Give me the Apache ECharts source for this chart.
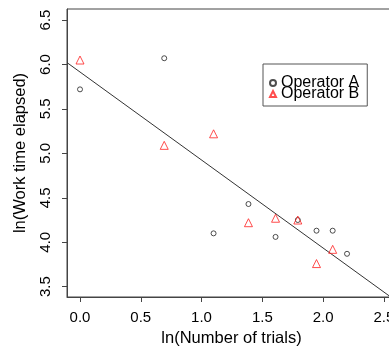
<!DOCTYPE html>
<html>
<head>
<meta charset="utf-8">
<script src="https://cdn.jsdelivr.net/npm/echarts@6/dist/echarts.min.js"></script>
<style>
  html, body { margin: 0; padding: 0; background: #fff; }
  #chart { width: 389px; height: 354px; }
</style>
</head>
<body>
<div id="chart"></div>
<script>
// ln(number of trials) / ln(work time) per operator
const xA = [0, 0.693, 1.099, 1.386, 1.609, 1.792, 1.946, 2.079, 2.197];
const yA = [5.72, 6.07, 4.10, 4.43, 4.06, 4.25, 4.13, 4.13, 3.87];
const xB = [0, 0.693, 1.099, 1.386, 1.609, 1.792, 1.946, 2.079];
const yB = [6.05, 5.09, 5.22, 4.22, 4.27, 4.25, 3.76, 3.92];

// fitted line y = a + b x
const fitA = 5.915;
const fitB = -0.99;

const xTicks = [0, 0.5, 1, 1.5, 2, 2.5];
const yTicks = [3.5, 4, 4.5, 5, 5.5, 6, 6.5];
const xRange = [-0.107, 2.6];
const yRange = [3.384, 6.624];

const font = "'Liberation Sans', Arial, sans-serif";
const axisColor = "#444";

const zip = (xs, ys) => xs.map((x, i) => [x, ys[i]]);
const fitLine = xRange.map(x => [x, fitA + fitB * x]);

const chart = echarts.init(document.getElementById("chart"));

const option = {
    animation: false,
    grid: {
        left: 67,
        top: 9,
        width: 329,
        height: 288,
        containLabel: false,
        outerBoundsMode: "none",
        show: true,
        borderColor: axisColor,
        borderWidth: 1,
        backgroundColor: "transparent"
    },
    xAxis: {
        type: "value",
        min: xRange[0],
        max: xRange[1],
        name: "ln(Number of trials)",
        nameLocation: "middle",
        nameGap: 33,
        nameTextStyle: {fontSize: 16.5, color: "#000", fontFamily: font},
        axisLine: {show: true, onZero: false, lineStyle: {color: axisColor}},
        splitLine: {show: false},
        axisTick: {show: true, inside: false, length: 5, lineStyle: {color: axisColor}, customValues: xTicks},
        axisLabel: {
            customValues: xTicks,
            margin: 13,
            fontSize: 15,
            color: "#000",
            fontFamily: font,
            formatter: v => v.toFixed(1)
        }
    },
    yAxis: {
        type: "value",
        min: yRange[0],
        max: yRange[1],
        name: "ln(Work time elapsed)",
        nameLocation: "middle",
        nameGap: 38,
        nameTextStyle: {fontSize: 16.5, color: "#000", fontFamily: font},
        axisLine: {show: true, onZero: false, lineStyle: {color: axisColor}},
        splitLine: {show: false},
        axisTick: {show: true, inside: false, length: 5, lineStyle: {color: axisColor}, customValues: yTicks},
        axisLabel: {
            customValues: yTicks,
            rotate: 90,
            margin: 14,
            fontSize: 15,
            color: "#000",
            fontFamily: font,
            formatter: v => v.toFixed(1)
        }
    },
    legend: {
        data: ["Operator A", "Operator B"],
        orient: "vertical",
        left: 263,
        top: 64,
        padding: [11, 8, 4, 6],
        itemGap: -5,
        itemWidth: 6,
        itemHeight: 6,
        borderColor: "#555",
        borderWidth: 1,
        textStyle: {fontSize: 16, lineHeight: 13, color: "#000", fontFamily: font}
    },
    series: [
        {
            name: "Operator A",
            type: "scatter",
            symbol: "circle",
            symbolSize: 5,
            itemStyle: {color: "transparent", borderColor: "#222", borderWidth: 1},
            data: zip(xA, yA),
            z: 3
        },
        {
            name: "Operator B",
            type: "scatter",
            symbol: "triangle",
            symbolSize: 8,
            itemStyle: {color: "transparent", borderColor: "#ff2020", borderWidth: 1},
            data: zip(xB, yB),
            z: 4
        },
        {
            name: "fit",
            type: "line",
            showSymbol: false,
            lineStyle: {color: "#333", width: 1},
            data: fitLine,
            silent: true,
            z: 2
        }
    ]
};

chart.setOption(option);
</script>
</body>
</html>
